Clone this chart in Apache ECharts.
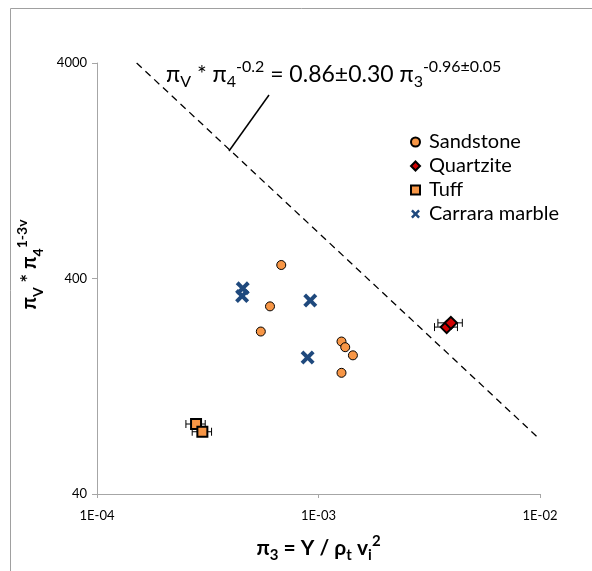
<!DOCTYPE html>
<html lang="en">
  <head>
    <meta charset="utf-8" />
    <title>pi scaling</title>
    <style>
      html,
      body,
      #container {
        margin: 0;
        height: 100%;
        width: 100%;
        background: #fff;
      }
    </style>
  </head>

  <body>
    <div id="container"></div>
    <script src="https://cdn.jsdelivr.net/npm/echarts@6/dist/echarts.min.js"></script>
    <script>
      // data
      const sandX = [6.79e-4, 6.04e-4, 5.49e-4, 1.27e-3, 1.32e-3, 1.43e-3, 1.27e-3]
      const sandY = [462, 297, 227, 204, 192, 176, 146]
      const quartzX = [3.79e-3, 3.96e-3]
      const quartzY = [238, 249]
      const quartzErr = [0.45e-3, 0.5e-3]
      const tuffX = [2.8e-4, 2.99e-4]
      const tuffY = [84.5, 77.8]
      const tuffErr = [0.28e-4, 0.3e-4]
      const marbleX = [4.55e-4, 4.52e-4, 9.18e-4, 8.93e-4]
      const marbleY = [360, 332, 316, 172]
      // fitted line end points
      const fitX = [1.51e-4, 1e-2]
      const fitY = [4000, 71.6]
      // axis ticks
      const xTicks = [1e-4, 1e-3, 1e-2]
      const xTickLabels = ['1E-04', '1E-03', '1E-02']
      const yTicks = [40, 400, 4000]
      const yTickLabels = ['40', '400', '4000']

      const FONT = 'Lato'
      const zip = (a, b, c) => a.map((v, i) => (c ? [v, b[i], c[i]] : [v, b[i]]))
      const xMark = 'path://M0,2 L2,0 L5,3 L8,0 L10,2 L7,5 L10,8 L8,10 L5,7 L2,10 L0,8 L3,5 Z'

      function errBars(params, api) {
        const x = api.value(0)
        const y = api.value(1)
        const e = api.value(2)
        const a = api.coord([x - e, y])
        const b = api.coord([x + e, y])
        const st = { stroke: '#000', lineWidth: 1 }
        return {
          type: 'group',
          children: [
            { type: 'line', shape: { x1: a[0], y1: a[1], x2: b[0], y2: b[1] }, style: st },
            { type: 'line', shape: { x1: a[0], y1: a[1] - 4, x2: a[0], y2: a[1] + 4 }, style: st },
            { type: 'line', shape: { x1: b[0], y1: b[1] - 4, x2: b[0], y2: b[1] + 4 }, style: st },
          ],
        }
      }

      const subStyle = { fontFamily: FONT, fontSize: 16, verticalAlign: 'bottom', lineHeight: 31 }
      const supStyle = { fontFamily: FONT, fontSize: 16, verticalAlign: 'top', lineHeight: 31 }

      let chart = echarts.init(document.getElementById('container'))
      let option = {
        animation: false,
        textStyle: { fontFamily: FONT },
        grid: { left: 97, right: 52, top: 63, bottom: 77 },
        legend: {
          orient: 'vertical',
          left: 405,
          top: 127,
          itemGap: 4,
          itemWidth: 9,
          itemHeight: 9,
          data: ['Sandstone', 'Quartzite', 'Tuff', 'Carrara marble'],
          textStyle: { fontSize: 20, color: '#000', fontFamily: FONT, padding: [0, 0, 0, 4] },
        },
        xAxis: {
          type: 'log',
          logBase: 10,
          min: 1e-4,
          max: 1e-2,
          name: '{b|π}{s|3}{b| = Y / ρ}{s|t}{b| v}{s|i}{p|2}',
          nameLocation: 'middle',
          nameGap: 40,
          nameTextStyle: {
            rich: {
              b: { fontFamily: FONT, fontSize: 21, fontWeight: 'bold', color: '#000' },
              s: { fontFamily: FONT, fontSize: 15, fontWeight: 'bold', color: '#000', verticalAlign: 'bottom', lineHeight: 29 },
              p: { fontFamily: FONT, fontSize: 15, fontWeight: 'bold', color: '#000', verticalAlign: 'top', lineHeight: 29 },
            },
          },
          axisLine: { lineStyle: { color: '#a6a6a6' } },
          axisTick: { length: 4, lineStyle: { color: '#a6a6a6' }, customValues: xTicks },
          axisLabel: {
            customValues: xTicks,
            color: '#000',
            fontSize: 13,
            margin: 15,
            formatter: (v) => xTickLabels[xTicks.findIndex((t) => Math.abs(Math.log10(t) - Math.log10(v)) < 1e-6)],
          },
          splitLine: { show: false },
        },
        yAxis: {
          type: 'log',
          logBase: 10,
          min: 40,
          max: 4000,
          name: '{b|π}{s|V}{b| * π}{s|4}{p|1-3v}',
          nameLocation: 'middle',
          nameGap: 52,
          nameTextStyle: {
            padding: [0, 0, 0, 28],
            rich: {
              b: { fontFamily: FONT, fontSize: 20, fontWeight: 'bold', color: '#000' },
              s: { fontFamily: FONT, fontSize: 14, fontWeight: 'bold', color: '#000', verticalAlign: 'bottom', lineHeight: 30 },
              p: { fontFamily: FONT, fontSize: 14, fontWeight: 'bold', color: '#000', verticalAlign: 'top', lineHeight: 30 },
            },
          },
          axisLine: { show: true, lineStyle: { color: '#a6a6a6' } },
          axisTick: { show: true, length: 5, lineStyle: { color: '#a6a6a6' }, customValues: yTicks },
          axisLabel: {
            customValues: yTicks,
            color: '#000',
            fontSize: 13,
            margin: 10,
            formatter: (v) => yTickLabels[yTicks.findIndex((t) => Math.abs(Math.log10(t) - Math.log10(v)) < 1e-6)],
          },
          splitLine: { show: false },
        },
        graphic: [
          {
            type: 'rect',
            shape: { x: 10.5, y: 8.5, width: 700, height: 700 },
            style: { fill: 'none', stroke: '#a0a0a0', lineWidth: 1 },
            silent: true,
          },
          {
            type: 'line',
            shape: { x1: 269, y1: 95, x2: 229, y2: 151 },
            style: { stroke: '#000', lineWidth: 1.5 },
          },
          {
            type: 'text',
            left: 166,
            top: 59,
            style: {
              text: '{a|π}{s|V}{a| * π}{s|4}{p|-0.2}{a| = 0.86±0.30 π}{s|3}{p|-0.96±0.05}',
              rich: {
                a: { fontFamily: FONT, fontSize: 23, color: '#000', lineHeight: 31 },
                s: Object.assign({ color: '#000' }, subStyle),
                p: Object.assign({ color: '#000' }, supStyle),
              },
            },
          },
        ],
        series: [
          {
            name: 'fit',
            type: 'line',
            data: zip(fitX, fitY),
            symbol: 'none',
            lineStyle: { color: '#000', width: 1.3, type: [7, 5] },
            z: 1,
          },
          {
            name: 'errors',
            type: 'custom',
            renderItem: errBars,
            data: zip(quartzX, quartzY, quartzErr).concat(zip(tuffX, tuffY, tuffErr)),
            encode: { x: 0, y: 1 },
            z: 2,
          },
          {
            name: 'Sandstone',
            type: 'scatter',
            data: zip(sandX, sandY),
            symbol: 'circle',
            symbolSize: 9,
            itemStyle: { color: '#f79646', borderColor: '#000', borderWidth: 1, opacity: 1 },
            z: 3,
          },
          {
            name: 'Quartzite',
            type: 'scatter',
            data: zip(quartzX, quartzY),
            symbol: 'diamond',
            symbolSize: 12,
            itemStyle: { color: '#d00000', borderColor: '#000', borderWidth: 2, opacity: 1 },
            z: 3,
          },
          {
            name: 'Tuff',
            type: 'scatter',
            data: zip(tuffX, tuffY),
            symbol: 'rect',
            symbolSize: 10,
            itemStyle: { color: '#f79646', borderColor: '#000', borderWidth: 2, opacity: 1 },
            z: 3,
          },
          {
            name: 'Carrara marble',
            type: 'scatter',
            data: zip(marbleX, marbleY),
            symbol: xMark,
            symbolSize: 14,
            itemStyle: { color: '#1f497d', opacity: 1 },
            z: 3,
          },
        ],
      }
      chart.setOption(option)
    </script>
  </body>
</html>
